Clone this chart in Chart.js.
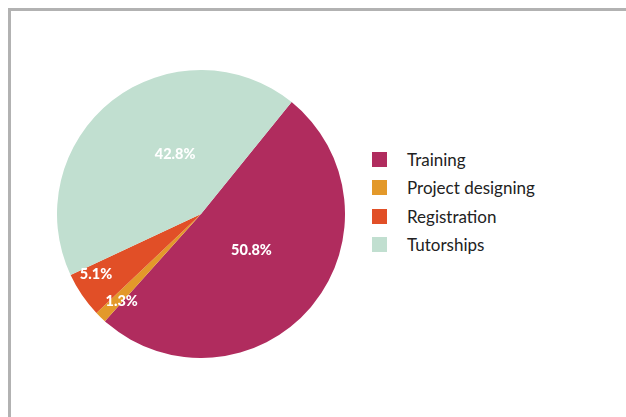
<!DOCTYPE html>
<html lang="en">
<head>
  <meta charset="UTF-8" />
  <title>Activity share</title>
  <script src="https://cdn.jsdelivr.net/npm/chart.js"></script>
  <style>
    * { box-sizing: border-box; }
    body {
      margin: 0;
      width: 626px;
      height: 417px;
      background: #ffffff;
      position: relative;
      overflow: hidden;
      font-family: 'Lato', 'DejaVu Sans', sans-serif;
    }
    .frame {
      position: absolute;
      left: 8px;
      top: 8px;
      right: -10px;
      bottom: -10px;
      border-top: 3px solid #b2b2b2;
      border-left: 3px solid #b2b2b2;
    }
    .pie-box {
      position: absolute;
      left: 57px;
      top: 70px;
      width: 288px;
      height: 288px;
    }
    .legend {
      position: absolute;
      left: 372px;
      top: 145px;
      margin: 0;
      padding: 0;
      list-style: none;
    }
    .legend li {
      display: flex;
      align-items: center;
      height: 28.5px;
      font-size: 17px;
      color: #222222;
    }
    .legend .swatch {
      width: 15px;
      height: 15px;
      margin-right: 20px;
      flex: none;
    }
  </style>
</head>
<body>
  <div class="frame"></div>
  <div class="pie-box"><canvas id="pieChart"></canvas></div>
  <ul class="legend" id="legend"></ul>

  <script>
    const categories = ['Training', 'Project designing', 'Registration', 'Tutorships'];
    const shares = [50.8, 1.3, 5.1, 42.8];
    const sliceColors = ['#b02c5e', '#e3992a', '#e14f27', '#c1dfd0'];

    // html legend
    const legend = document.getElementById('legend');
    categories.forEach((name, i) => {
      const li = document.createElement('li');
      const sw = document.createElement('span');
      sw.className = 'swatch';
      sw.style.background = sliceColors[i];
      li.appendChild(sw);
      li.appendChild(document.createTextNode(name));
      legend.appendChild(li);
    });

    // percent labels inside the slices
    const sliceLabels = {
      id: 'sliceLabels',
      afterDatasetsDraw(chart, args, opts) {
        const ctx = chart.ctx;
        const meta = chart.getDatasetMeta(0);
        ctx.save();
        ctx.fillStyle = '#ffffff';
        ctx.font = "900 14.5px 'Lato', 'DejaVu Sans', sans-serif";
        ctx.textAlign = 'center';
        ctx.textBaseline = 'middle';
        meta.data.forEach((arc, i) => {
          const p = arc.getProps(['x', 'y', 'startAngle', 'endAngle', 'outerRadius'], true);
          const mid = (p.startAngle + p.endAngle) / 2 + opts.shift[i] * Math.PI / 180;
          const r = p.outerRadius * opts.radius[i];
          ctx.fillText(shares[i].toFixed(1) + '%', p.x + Math.cos(mid) * r, p.y + Math.sin(mid) * r);
        });
        ctx.restore();
      }
    };

    new Chart(document.getElementById('pieChart'), {
      type: 'pie',
      data: {
        labels: categories,
        datasets: [{
          data: shares,
          backgroundColor: sliceColors,
          borderWidth: 0
        }]
      },
      options: {
        responsive: true,
        maintainAspectRatio: false,
        animation: false,
        rotation: 39,
        layout: { padding: 0 },
        plugins: {
          legend: { display: false },
          tooltip: { enabled: false },
          sliceLabels: {
            shift: [-5, -2, 4.5, 14.5],
            radius: [0.43, 0.82, 0.84, 0.45]
          }
        }
      },
      plugins: [sliceLabels]
    });
  </script>
</body>
</html>
